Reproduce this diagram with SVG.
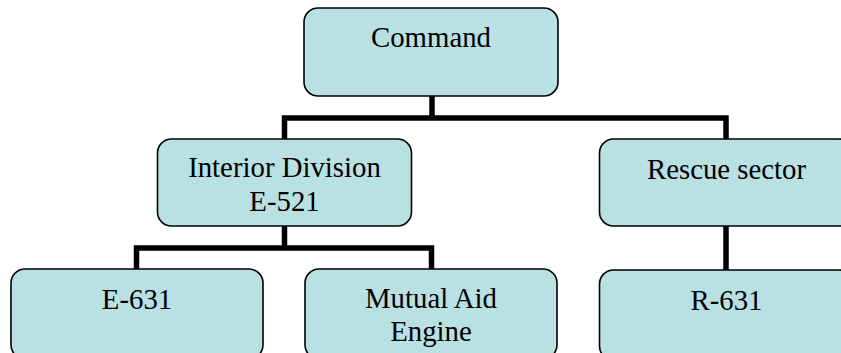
<svg xmlns="http://www.w3.org/2000/svg" width="841" height="353" viewBox="0 0 841 353">
<style>
.box{fill:#b9e0e3;stroke:#000;stroke-width:1.6}
.lbl{font-family:"Liberation Serif","Times New Roman",serif;font-size:28.8px;fill:#000;text-anchor:middle}
.conn{fill:none;stroke:#000;stroke-width:5.5;stroke-linejoin:miter;stroke-linecap:butt}
</style>
<rect width="841" height="353" fill="#fff"/>
<g id="connectors">
<path class="conn" d="M432,96 V118"/>
<path class="conn" d="M284.5,139 V118 H726 V139"/>
<path class="conn" d="M284.5,226 V248"/>
<path class="conn" d="M136.5,269 V248 H431.5 V269"/>
<path class="conn" d="M726,226 V270"/>
</g>
<g id="command">
<rect class="box" x="304" y="8" width="254" height="88" rx="14"/>
<text class="lbl" x="431" y="47">Command</text>
</g>
<g id="interior">
<rect class="box" x="157.5" y="139" width="254" height="87" rx="14"/>
<text class="lbl" x="284.5" y="177">Interior Division</text>
<text class="lbl" x="284.5" y="210.5">E-521</text>
</g>
<g id="rescue">
<rect class="box" x="599.5" y="139" width="254" height="87" rx="14"/>
<text class="lbl" x="726.5" y="178.5">Rescue sector</text>
</g>
<g id="e631">
<rect class="box" x="11" y="269" width="252" height="90" rx="14"/>
<text class="lbl" x="137" y="309">E-631</text>
</g>
<g id="mutual">
<rect class="box" x="305" y="269" width="252" height="90" rx="14"/>
<text class="lbl" x="431" y="307.5">Mutual Aid</text>
<text class="lbl" x="431" y="340.5">Engine</text>
</g>
<g id="r631">
<rect class="box" x="599.5" y="270" width="254" height="90" rx="14"/>
<text class="lbl" x="726.5" y="310">R-631</text>
</g>
</svg>
